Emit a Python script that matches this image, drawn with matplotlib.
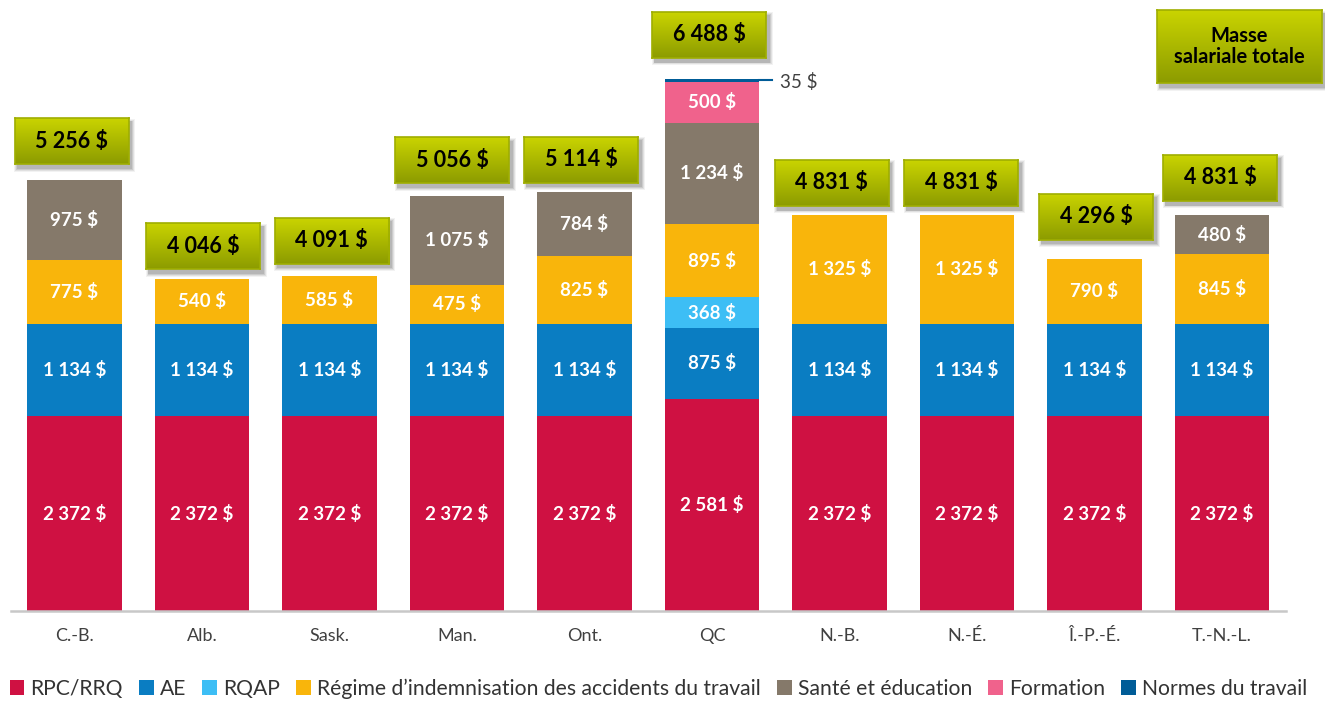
import matplotlib
matplotlib.use('Agg')
import matplotlib.pyplot as plt
import numpy as np
from matplotlib.patches import Rectangle, Patch

plt.rcParams['font.family'] = ['Lato', 'DejaVu Sans']

# ---------------- data ----------------
categories = ['C.-B.', 'Alb.', 'Sask.', 'Man.', 'Ont.', 'QC', 'N.-B.', 'N.-É.', 'Î.-P.-É.', 'T.-N.-L.']
rpc       = [2372, 2372, 2372, 2372, 2372, 2581, 2372, 2372, 2372, 2372]
ae        = [1134, 1134, 1134, 1134, 1134, 875, 1134, 1134, 1134, 1134]
rqap      = [0, 0, 0, 0, 0, 368, 0, 0, 0, 0]
regime    = [775, 540, 585, 475, 825, 895, 1325, 1325, 790, 845]
sante     = [975, 0, 0, 1075, 784, 1234, 0, 0, 0, 480]
formation = [0, 0, 0, 0, 0, 500, 0, 0, 0, 0]
normes    = [0, 0, 0, 0, 0, 35, 0, 0, 0, 0]
totals    = [5256, 4046, 4091, 5056, 5114, 6488, 4831, 4831, 4296, 4831]
series_names = ['RPC/RRQ', 'AE', 'RQAP', 'Régime d’indemnisation des accidents du travail',
                'Santé et éducation', 'Formation', 'Normes du travail']
total_title = 'Masse\nsalariale totale'

# ---------------- style ----------------
colors = ['#CF1142', '#0A7DC2', '#3DBEF5', '#F9B50B', '#85796A', '#F0628C', '#005C97']
# offsets of total boxes relative to bar top (pixels: dx, dy above)
box_offsets = [(-3, 39), (1, 33), (2, 35), (-5, 36), (-3.5, 32), (-3, 44),
               (-8, 32), (-6, 32), (1.5, 42), (-2, 37)]

W, H = 1325, 702
fig = plt.figure(figsize=(W / 100, H / 100), dpi=100)
ax = fig.add_axes([10.75 / W, 1 - 611 / H, 1275 / W, 611 / H])

def fmt(v):
    return f'{v:,}'.replace(',', ' ') + ' $'

x = np.arange(len(categories))
series = [rpc, ae, rqap, regime, sante, formation, normes]
bottom = np.zeros(len(categories))
for name, vals, c in zip(series_names, series, colors):
    vals = np.array(vals, dtype=float)
    ax.bar(x, vals, width=0.745, bottom=bottom, color=c, label=name, zorder=2)
    for i, v in enumerate(vals):
        if v >= 100:
            ax.text(i, bottom[i] + v / 2, fmt(int(v)), ha='center', va='center',
                    color='white', fontsize=13.5, fontweight='bold', zorder=3)
    bottom += vals

ax.set_xlim(-0.5, len(categories) - 0.5)
ax.set_ylim(0, 611 / 0.082)
ax.set_yticks([])
ax.set_xticks(x, categories)
ax.tick_params(axis='x', length=0, pad=12, labelsize=13, labelcolor='#404040')
for s in ['top', 'right', 'left']:
    ax.spines[s].set_visible(False)
ax.spines['bottom'].set_color('#C8C8C8')
ax.spines['bottom'].set_linewidth(1.8)

# small label for Normes du travail (QC)
qi = categories.index('QC')
ybar = bottom[qi] - normes[qi] / 2
xr = qi + 0.745 / 2
ax.plot([xr, xr + 0.1], [ybar, ybar], color='#005C97', lw=1.5, zorder=3, clip_on=False)
ax.text(xr + 0.16, ybar - 20, fmt(normes[qi]), ha='left', va='center', color='#404040',
        fontsize=13.5)

# gradient boxes
grad = np.linspace(0, 1, 64).reshape(-1, 1)
top_c = np.array([0.79, 0.83, 0.0])
bot_c = np.array([0.55, 0.61, 0.0])
img = (top_c[None, None, :] * (1 - grad[:, :, None]) + bot_c[None, None, :] * grad[:, :, None])

def gbox(cx, cy, w, h, text, fs):
    # cx, cy in display pixels (origin bottom-left)
    x0, y0 = cx - w / 2, cy - h / 2
    for d, a in [(7, 0.05), (5, 0.07), (3, 0.09), (1.5, 0.1)]:
        fig.patches.append(Rectangle((x0 + 3 - d / 2, y0 - 4 - d / 2), w + d, h + d,
                                     transform=None, facecolor='black', alpha=a,
                                     edgecolor='none', zorder=4))
    bax = fig.add_axes([x0 / W, y0 / H, w / W, h / H], zorder=5)
    bax.imshow(img, aspect='auto', extent=[0, 1, 0, 1], interpolation='bilinear')
    bax.set_xticks([]); bax.set_yticks([])
    for s in bax.spines.values():
        s.set_color('#9FAE00'); s.set_linewidth(1.2)
    bax.text(0.5, 0.5, text, ha='center', va='center', fontsize=fs, fontweight='bold',
             color='black', transform=bax.transAxes, linespacing=1.1)

for i, t in enumerate(totals):
    px, py = ax.transData.transform((i, t))
    dx, dy = box_offsets[i]
    gbox(px + dx, py + dy, 114, 46, fmt(t), 15.5)

gbox(1239.5, H - 46.5, 165, 73, total_title, 14.5)

handles = [Patch(facecolor=c, edgecolor='none') for c in colors]
fig.legend(handles, series_names, loc='center', bbox_to_anchor=(0.497, (H - 689) / H),
           ncol=7, frameon=False, fontsize=15.2, handlelength=0.7, handleheight=0.7,
           handletextpad=0.3, columnspacing=0.75, labelcolor='#333333', borderpad=0)

fig.savefig('out.png', dpi=100)
